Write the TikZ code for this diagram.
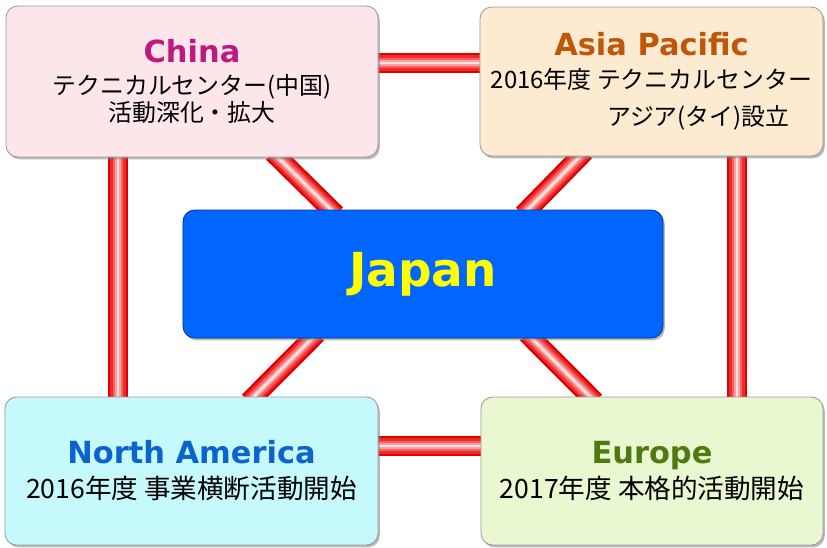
\documentclass[tikz,border=0pt]{standalone}
\usepackage{fontspec}
\setmainfont{Noto Sans CJK JP}
\newfontfamily\titlefont{DejaVu Sans}
\usetikzlibrary{shadows,backgrounds}

\definecolor{chinafill}{HTML}{FDE6EA}
\definecolor{chinatext}{HTML}{C0187F}
\definecolor{asiafill}{HTML}{FDEBD1}
\definecolor{asiatext}{HTML}{C0560A}
\definecolor{japanfill}{HTML}{0066FF}
\definecolor{japantext}{HTML}{FFFF00}
\definecolor{nafill}{HTML}{C6F9FC}
\definecolor{natext}{HTML}{0B63CE}
\definecolor{eufill}{HTML}{E9F8D1}
\definecolor{eutext}{HTML}{4E7A0E}
\definecolor{tubeedge}{HTML}{E00000}
\definecolor{tubeA}{HTML}{EE2A2A}
\definecolor{tubeB}{HTML}{F46262}
\definecolor{tubeC}{HTML}{FAA2A2}
\definecolor{tubeD}{HTML}{FFE2E2}

\newcommand{\regtitle}[2]{{\titlefont\bfseries\fontsize{26}{30}\selectfont\color{#1}#2}}

\tikzset{
  region/.style={shape=rectangle, rounded corners=10pt, draw=black!40,
    line width=0.7pt, inner sep=0pt, align=center,
    drop shadow={shadow xshift=1.5pt, shadow yshift=-2pt, opacity=0.55},
    font=\fontsize{20.4}{23}\selectfont},
  tube/.style={draw=tubeA, line width=13pt,
    preaction={draw=tubeedge, line width=17pt},
    postaction={draw=tubeB, line width=9pt},
    postaction={draw=tubeC, line width=5pt},
    postaction={draw=tubeD, line width=2pt},
    shorten <=-6pt, shorten >=-6pt}
}

\begin{document}
\begin{tikzpicture}[x=0.03cm, y=-0.03cm]
  \useasboundingbox (0,0) rectangle (827,547);

  \node (china)[region, fill=chinafill, minimum width=11.16cm, minimum height=4.53cm]
      at (192, 81.5) {\regtitle{chinatext}{China}\\[5pt]
        テクニカルセンター(中国)\\ 活動深化・拡大};
  \node (asia)[region, fill=asiafill, minimum width=10.29cm, minimum height=4.47cm]
      at (651.5, 81.5) {\regtitle{asiatext}{Asia Pacific}\\[5pt]
        2016年度 テクニカルセンター\\[9pt] \hspace*{80pt}アジア(タイ)設立};
  \node (japan)[region, fill=japanfill, draw=japanfill!55!black,
      minimum width=14.4cm, minimum height=3.84cm,
      font=\titlefont\bfseries\fontsize{40}{48}\selectfont, text=japantext]
      at (423, 274) {Japan};
  \node (na)[region, fill=nafill, minimum width=11.19cm, minimum height=4.44cm,
      font=\fontsize{22.7}{26}\selectfont]
      at (191.5, 471) {\regtitle{natext}{North America}\\[4pt]
        2016年度 事業横断活動開始};
  \node (europe)[region, fill=eufill, minimum width=10.26cm, minimum height=4.44cm,
      font=\fontsize{22.7}{26}\selectfont]
      at (652, 471) {\regtitle{eutext}{Europe}\\[4pt]
        2017年度 本格的活動開始};

  \begin{scope}[on background layer]
    \draw[tube] ([yshift=0.555cm]china.east) -- ([yshift=0.555cm]china.east -| asia.west);
    \draw[tube] ([yshift=0.75cm]na.east) -- ([yshift=0.75cm]na.east -| europe.west);
    \draw[tube] ([xshift=-2.22cm]china.south) -- ([xshift=-2.22cm]china.south |- na.north);
    \draw[tube] ([xshift=2.565cm]asia.south) -- ([xshift=2.565cm]asia.south |- europe.north);
    \draw[tube] ([xshift=2.58cm]china.south) -- ([xshift=-2.76cm]japan.north);
    \draw[tube] ([xshift=-2.145cm]asia.south) -- ([xshift=3.15cm]japan.north);
    \draw[tube] ([xshift=-3.33cm]japan.south) -- ([xshift=1.875cm]na.north);
    \draw[tube] ([xshift=3.27cm]japan.south) -- ([xshift=-1.86cm]europe.north);
  \end{scope}
\end{tikzpicture}
\end{document}
